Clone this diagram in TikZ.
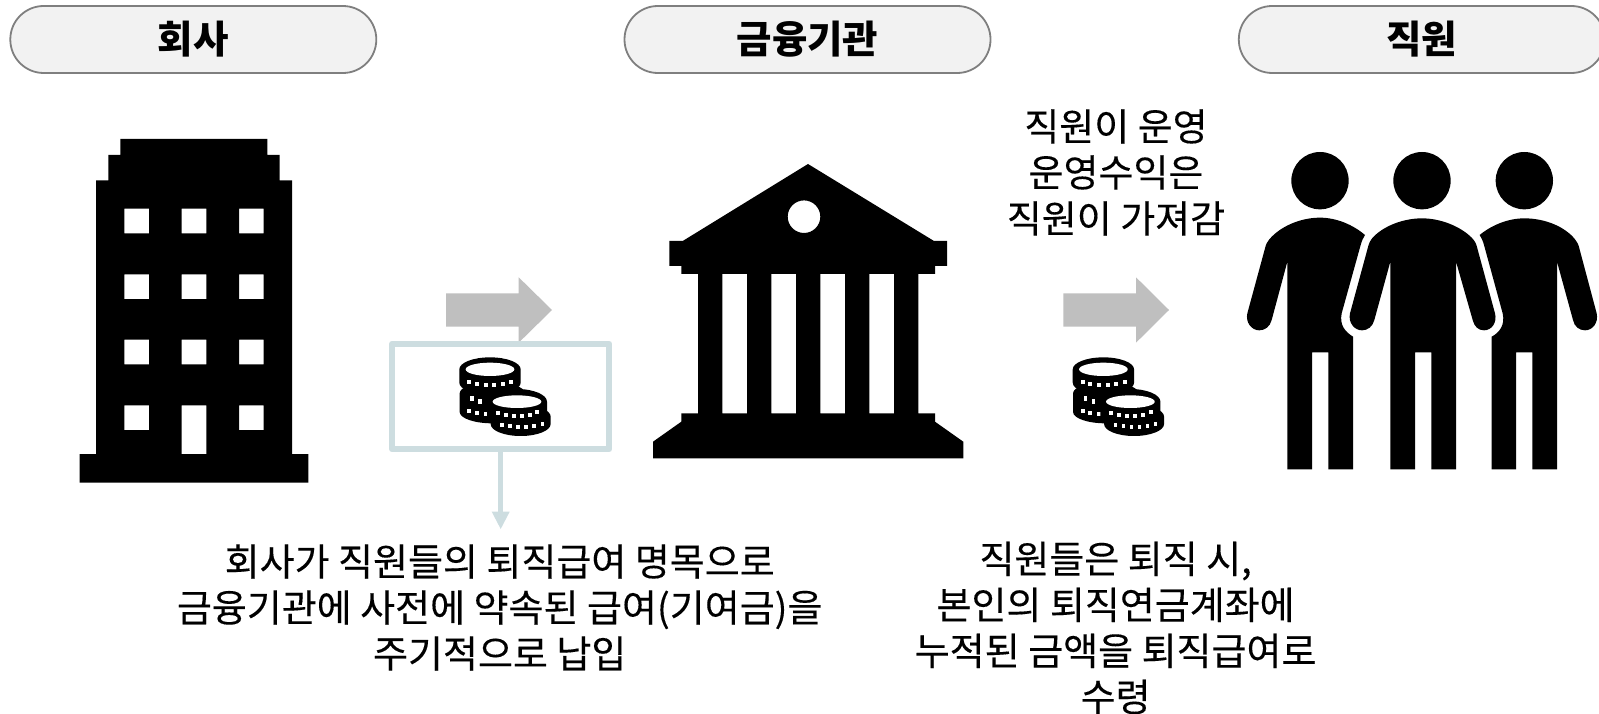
\documentclass[tikz,border=0pt]{standalone}
\usepackage{fontspec}
\setmainfont{Noto Sans CJK KR}
\newfontfamily\bodyfont[FakeBold=0.25]{Noto Sans CJK KR}
\definecolor{pillfill}{HTML}{F2F2F2}
\definecolor{pillline}{HTML}{7F7F7F}
\definecolor{boxline}{HTML}{CDDDE0}
\definecolor{arrowgray}{HTML}{BFBFBF}
\tikzset{
  pill/.style={draw=pillline,fill=pillfill,line width=1.8pt,rounded corners=33.4pt,minimum width=366pt,minimum height=67pt,inner sep=0pt,font=\fontsize{38.5pt}{42pt}\selectfont\bfseries},
  bodytext/.style={align=center,inner sep=0pt,font=\bodyfont\fontsize{38pt}{46pt}\selectfont},
  moneybox/.style={draw=boxline,line width=6pt,line join=round,minimum width=217pt,minimum height=105.6pt,inner sep=0pt},
  zoomthree/.style={x=0.33333pt,y=-0.33333pt},
}
\newcommand{\onecoin}[5]{% cx cy rx ry h
  \fill[black] (#1-#3,#2) arc[x radius=#3,y radius=#4,start angle=180,end angle=360] -- ++(0,#5) arc[x radius=#3,y radius=#4,start angle=0,end angle=180] -- cycle;
}
\newcommand{\coinpile}{%
  \onecoin{337}{400}{98}{34}{56}
  \onecoin{330}{328}{92}{36}{40}
  \fill[white] (330,328) ellipse[x radius=73,y radius=20];
  \foreach \px/\py in {268/367,291/373,317/376,343/376,369/373,394/366}{\fill[white] (\px-6,\py-6) rectangle (\px+6,\py+6);}
  \foreach \px/\py in {276/415,300/424}{\fill[white] (\px-5,\py-7) rectangle (\px+5,\py+7);}
  \foreach \px/\py in {268/452,291/459,317/462}{\fill[white] (\px-6,\py-6) rectangle (\px+6,\py+6);}
  \onecoin{422}{470}{90}{36}{22}
  \onecoin{411}{425}{90}{38}{42}
  \fill[white] (411,425) ellipse[x radius=73,y radius=19];
  \foreach \px/\py in {353/458,378/465,401/467,425/467,449/464,472/457}{\fill[white] (\px-6,\py-6) rectangle (\px+6,\py+6);}
  \foreach \px/\py in {366/495,390/499,414/500,438/500,462/498,487/492}{\fill[white] (\px-5,\py-6) rectangle (\px+5,\py+6);}
}
\begin{document}
\begin{tikzpicture}[x=1pt,y=-1pt]
\useasboundingbox (0,0) rectangle (1599,714);
% header pills
\node[pill] (h1) at (193.3,39.5) {회사};
\node[pill] (h2) at (807.5,39.5) {금융기관};
\node[pill] (h3) at (1421.8,39.5) {직원};
% building
\fill[black,even odd rule] (120.3,139) -- (267.3,139) -- (267.3,155) -- (279.7,155) -- (279.7,180.3) -- (292,180.3) -- (292,454) -- (308.3,454) -- (308.3,482.7) -- (79.7,482.7) -- (79.7,454) -- (96,454) -- (96,180.3) -- (108.3,180.3) -- (108.3,155) -- (120.3,155) -- cycle
  \foreach \wy in {208.7,274.3,339.7}{ \foreach \wx in {124.3,181.7,239}{ (\wx,\wy) rectangle (\wx+24.7,\wy+24.7) } }
  (124.3,405.3) rectangle (149,430) (239,405.3) rectangle (263.7,430) (181.7,405.3) rectangle (206.3,454);
% arrow 1 (behind box)
\fill[arrowgray] (446,293.3) -- (518.7,293.3) -- (518.7,277.3) -- (552,310) -- (518.7,342.7) -- (518.7,326.7) -- (446,326.7) -- cycle;
% money box
\node[moneybox,fill=white] (mbox) at (500.7,396.5) {};
\begin{scope}[shift={(380,260)},zoomthree]\coinpile\end{scope}
\coordinate (mend) at (500.7,529);
\draw[boxline,line width=5.5pt] (mbox.south) -- (500.7,512);
\fill[boxline] (491.7,511.7) -- (509.7,511.7) -- (mend) -- cycle;
% bank
\fill[black,even odd rule] (808,164) -- (934,241) -- (947,241) -- (947,266) -- (935,266) -- (935,274) -- (918.3,274) -- (918.3,413.3) -- (935,413.3) -- (935,421.7) -- (963.3,441.7) -- (963.3,458.3) -- (653,458.3) -- (653,441.7) -- (681.3,421.7) -- (681.3,413.3) -- (698,413.3) -- (698,274) -- (681.3,274) -- (681.3,266) -- (669.3,266) -- (669.3,241) -- (682.7,241) -- cycle
  (722.3,274) rectangle (747,413.3) (771.3,274) rectangle (796,413.3) (820.3,274) rectangle (845,413.3) (869.3,274) rectangle (894,413.3)
  (804,216.7) circle[radius=16.3];
% arrow 2
\fill[arrowgray] (1063.3,293.3) -- (1136,293.3) -- (1136,277.3) -- (1169,310) -- (1136,342.7) -- (1136,326.7) -- (1063.3,326.7) -- cycle;
\begin{scope}[shift={(993.4,260)},zoomthree]\coinpile\end{scope}
% people
\begin{scope}[shift={(1230,140)},zoomthree]
\fill (270,122) circle[radius=86];
\fill (576,122) circle[radius=86];
\fill (883,122) circle[radius=86];
% left
\fill (172,365) -- (172,988) -- (246,988) -- (246,637) -- (295,637) -- (295,988) -- (369,988) -- (369,590) .. controls (345,575) and (328,555) .. (335,520) -- (392,315) .. controls (395,303) and (400,293) .. (405,285) .. controls (370,255) and (320,233) .. (270,233) .. controls (210,233) and (150,260) .. (118,298) .. controls (112,305) and (108,312) .. (105,325) -- (52,520) .. controls (46,548) and (65,571) .. (88,571) .. controls (105,571) and (120,560) .. (125,540) -- cycle;
% middle
\fill (481,365) -- (481,988) -- (555,988) -- (555,637) -- (604,637) -- (604,988) -- (678,988) -- (678,365) -- (728,540) .. controls (733,560) and (745,571) .. (762,571) .. controls (785,571) and (802,548) .. (795,520) -- (742,325) .. controls (739,312) and (735,303) .. (725,293) .. controls (690,258) and (630,235) .. (576,235) .. controls (520,235) and (460,258) .. (428,293) .. controls (420,302) and (416,312) .. (413,325) -- (360,520) .. controls (354,548) and (373,571) .. (396,571) .. controls (413,571) and (428,560) .. (433,540) -- cycle;
% right
\fill (981,365) -- (981,988) -- (907,988) -- (907,637) -- (858,637) -- (858,988) -- (785,988) -- (785,590) .. controls (808,578) and (826,555) .. (818,520) -- (762,315) .. controls (759,303) and (754,293) .. (749,285) .. controls (785,255) and (835,235) .. (883,235) .. controls (945,235) and (1005,260) .. (1035,298) .. controls (1041,305) and (1045,312) .. (1048,325) -- (1100,520) .. controls (1106,548) and (1088,571) .. (1065,571) .. controls (1048,571) and (1033,560) .. (1029,540) -- cycle;
\end{scope}
% texts
\node[bodytext] (t1) at (1116,172.5) {직원이 운영\\운영수익은\\직원이 가져감};
\node[bodytext] (t2) at (499.7,607.5) {회사가 직원들의 퇴직급여 명목으로\\금융기관에 사전에 약속된 급여(기여금)을\\주기적으로 납입};
\node[bodytext] (t3) at (1115.6,628) {직원들은 퇴직 시,\\본인의 퇴직연금계좌에\\누적된 금액을 퇴직급여로\\수령};
\end{tikzpicture}
\end{document}
